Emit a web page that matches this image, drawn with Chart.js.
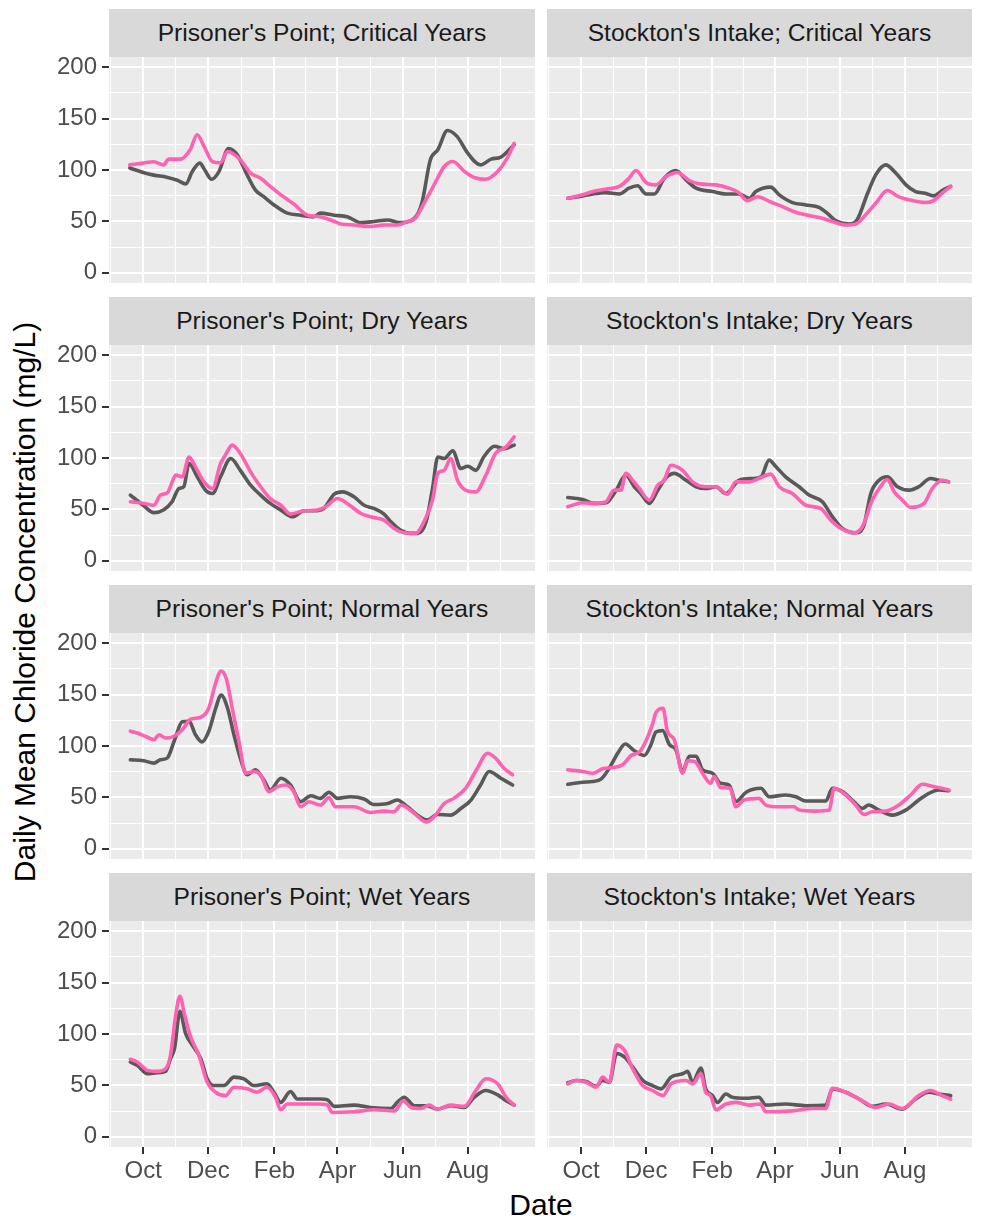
<!DOCTYPE html>
<html><head><meta charset="utf-8">
<script src="https://cdn.jsdelivr.net/npm/chart.js@4"></script>
<style>
html,body{margin:0;padding:0;background:#fff;}
body{width:981px;height:1225px;position:relative;overflow:hidden;font-family:"Liberation Sans",Arial,sans-serif;}
.strip{position:absolute;background:#D9D9D9;color:#1A1A1A;font-size:24.6px;display:flex;align-items:center;justify-content:center;white-space:nowrap;}
canvas{position:absolute;}
.title{position:absolute;color:#000;font-size:30px;white-space:nowrap;line-height:1;}
</style></head><body>
<div class="title" id="ytitle" style="left:25px;top:602px;transform:translate(-50%,-50%) rotate(-90deg);">Daily Mean Chloride Concentration (mg/L)</div>
<div class="title" id="xtitle" style="left:541px;top:1205px;transform:translate(-50%,-50%);">Date</div>
<script>
// ---- axis ticks (x in days since Oct 1) ----
const monthDays   = [0, 61, 123, 182, 243, 304];
const monthLabels = ['Oct', 'Dec', 'Feb', 'Apr', 'Jun', 'Aug'];
const minorDays   = [-30.5, 30.5, 92, 152.5, 212.5, 273.5, 334.5];
const yMajor      = [0, 50, 100, 150, 200];
const yMinor      = [25, 75, 125, 175];

const stations = ["Prisoner's Point", "Stockton's Intake"];
const yearTypes = ['Critical', 'Dry', 'Normal', 'Wet'];

// ---- series: [day, mg/L]; gray and pink lines ----
const ppCriticalGray = [[-12.5,102],[0,97.6],[10,95],[22,93],[32,90],[40,86.5],[46,98.5],[53,106.7],[58,99.5],[64,91],[71,98.5],[80,121],[88,115],[97.5,95],[105,80.7],[113,74],[122.5,66],[135,58],[147.5,56],[160,54.6],[166,58],[178.75,56],[191,54.6],[204,48.8],[216,49.8],[229,51.4],[240,48.8],[254,53],[261,67.6],[269,110],[276,119.7],[285,138.5],[294,132.7],[304,116.4],[316,105],[326,110.6],[335,112.5],[347.5,124.5]];
const ppCriticalPink = [[-12.5,105],[0,106.7],[10,108],[19,105],[24,110.6],[35,110.6],[44,119.7],[50.6,134.3],[57,123],[65,108],[72.5,107],[79,118],[91,110],[100.6,97],[110,92],[119,84],[129,75.8],[141,67],[154,56],[163,55],[175.6,51.4],[185,47.5],[197.5,46.5],[213,45],[225.6,46.5],[238,46.5],[247.5,49.8],[255,53],[263,67.6],[272.5,85.5],[282,103.4],[290,108.3],[301,98.5],[310,92.7],[321,91],[332,98.5],[341,111.5],[347.5,126]];
const siCriticalGray = [[-12.5,72.5],[1.5,74.8],[11,76.7],[23,78],[36,76.7],[45,82.3],[53,84.6],[61,76.7],[69,76.7],[78,92],[89,99.5],[98.5,90.4],[108,82.3],[123.5,79],[136,76.7],[148,76.7],[158,72.5],[164,79],[178,83.3],[186,75.8],[198.5,68.3],[211,66],[223.4,63.7],[231,58],[239,50.7],[251.5,47.5],[259,51.4],[269,77.4],[276.6,95.3],[286,105],[295,97.6],[305,85.5],[314,79],[323,77.4],[331,74.8],[339,80],[347,84]];
const siCriticalPink = [[-12.5,72.5],[1.5,75.8],[11,79],[23,81.3],[36,84],[45,92],[51.5,99.5],[61,87.8],[70,85.5],[80,93.7],[90.6,97.6],[101.5,89.8],[111,86.5],[126.5,85.5],[139,82.3],[148,78],[156,70.2],[166,74],[177,69.3],[189,64.4],[201.5,58.9],[214,55.6],[226.5,53],[236,49.8],[248.4,46.5],[258,47.5],[267,56.3],[276.6,67.6],[287.5,80],[298,74],[311,70.2],[323,68.3],[331,70.2],[339,77.4],[347,84]];
const ppDryGray = [[-12,63.9],[0,54],[10,46.7],[19,49.3],[27,57.4],[33.5,70.3],[38,72],[43,94.6],[50.6,81.7],[58.4,68.7],[65,65.5],[72.5,81.7],[82,99.5],[91,88],[100.6,73.6],[110,63.9],[119,55.8],[129,49.3],[140,42.8],[150.6,48.6],[160,48.6],[169,50.9],[179,64.8],[186.6,67],[197.5,62.2],[207,54],[216,50.9],[225.6,45.4],[232,38],[241,29.8],[250.6,26.6],[257,26.6],[265,38],[271,70.3],[276,101],[282,99.5],[290,107],[297.5,89.8],[304,92],[311.6,88],[319,101],[329,111.5],[338,109],[347.5,112.5]];
const ppDryPink = [[-12,57.4],[0.6,55.8],[10,54],[16.25,63.9],[22.5,66],[31,83.3],[36.6,81.7],[43,101],[49,91.4],[57,76.8],[65,70.3],[72.5,94.6],[77,102.8],[83.4,112.5],[91,104.4],[100.6,86.5],[110,72],[119,60.6],[129,54],[138,45.4],[150.6,48.6],[163,49.3],[171,52.5],[182,60.6],[191,55.8],[204,46],[216,42],[225.6,39.5],[235,31.4],[244.4,27.2],[255,26.6],[263,38],[271,59],[276,85],[282,88],[288,99.5],[294.4,78.4],[302,68.7],[311.6,67],[321,83.3],[330,104.4],[340,110.8],[347.5,120.6]];
const siDryGray = [[-12.5,61.6],[1.5,59.6],[12.5,55.8],[23.4,56.4],[33,68.7],[42,83.3],[50,72],[56,65.5],[64,55.8],[72,68.7],[80,81],[87.5,85],[98.5,78.4],[108,72],[117,70.3],[126.5,72],[136,65.5],[148.4,78.4],[161,80],[169,81.7],[176.5,97.9],[183,91.4],[192,81.7],[204.7,72],[214,63.9],[226.5,57.4],[236,42.8],[245.3,31.4],[258,27.2],[265.6,34.7],[272,65.5],[279.7,78.4],[287.5,81.7],[297,72],[308,68.7],[317,72],[328,80],[336,78.4],[345,76.8]];
const siDryPink = [[-12.5,52.5],[1.5,56.4],[12.5,55.8],[23.4,57.4],[31,68.7],[37.5,68.7],[42,85],[48.4,78.4],[54.7,70.3],[64,59],[72,73.6],[78,78.4],[84.4,93],[95.3,88],[104.7,76.8],[117,72],[126.5,72],[137.5,64.8],[145.3,76.8],[158,76.8],[167,80],[178,84.3],[186,72],[198.4,65.5],[211,54],[225,50.9],[234.4,39.5],[244,31.4],[256,27.2],[264,33],[273.4,59],[281,72],[287.5,79],[294,67],[301.6,59],[309.4,51.9],[322,55.8],[329.7,70.3],[339,78.4],[345,76.8]];
const ppNormalGray = [[-12,86.6],[0.6,85.6],[10,83.3],[16,86.6],[22.5,88.2],[29,104.6],[36.6,123.5],[43,124],[49,111],[55,104],[61.5,114.4],[68,137],[73,149.7],[79,137],[85,111],[91,88.2],[97.5,72],[105,76.8],[113,67],[119,57.2],[129,68.6],[138,62],[147.5,45.8],[157,51.6],[166,49],[174,55],[182,49],[194,50.6],[207,48.4],[216,43],[229,44],[238,47.4],[247.5,40.8],[257,32.7],[266,27.8],[275.6,33.3],[288,32.7],[297.5,39.2],[307,47.4],[316,62],[324,75.2],[335,68.6],[346,62]];
const ppNormalPink = [[-12,114.4],[-5.6,112.7],[2,109.5],[10,106.2],[15,111],[21,107.8],[29,109.5],[38,117.6],[44,125.8],[54,128],[61.5,137],[68,161.8],[73,173],[78,165],[83.4,137],[89.7,104.6],[96,73.5],[103.7,75.2],[110,72],[118,55.6],[126,60.5],[133.8,62],[141,55.6],[147.5,40.8],[155.3,45.8],[166,42.5],[174,49.7],[180,40.8],[197.5,40.8],[213,35.3],[225.6,36.6],[235,36],[241.6,42.5],[254,34.3],[265,26.1],[272.5,31],[282,44],[291,49],[302,58.8],[313,78.4],[322.5,93],[330,88.2],[338,78.4],[346,72]];
const siNormalGray = [[-12.5,62.7],[1.5,64.7],[11,65.4],[19,68],[26.5,78.4],[34.4,93],[41.5,102],[50,95.4],[59.4,90.8],[65.6,101.3],[70.3,113.7],[76.6,115],[83,101.3],[89,96.4],[95.3,75.2],[101.6,90],[108,90],[114,76.8],[123.4,73.5],[131,63.7],[139,62],[145.3,45.8],[155,55],[168.75,58.8],[176.6,50.6],[192,52.3],[201.6,50.6],[211,46.4],[229.7,46.4],[236,58.8],[245.3,55.6],[256,45.8],[264,39.2],[270,42.5],[279.7,37.6],[292,32.7],[304.7,37.6],[317,47.4],[326.5,53.9],[336,57.2],[345.3,56.5]];
const siNormalPink = [[-12.5,76.8],[1.5,75.2],[11,73.5],[20,77.8],[29.7,79],[39,81.7],[47,90.8],[54.7,94.1],[61,105.2],[67,121],[70.3,132.4],[77,136.6],[81,114.4],[87.5,106.2],[95.3,73.5],[100,85.6],[106.6,85],[114,73.5],[121.6,63.7],[125,70.3],[131,59.5],[140,58.8],[145.3,40.8],[153,47.4],[167,49],[173.4,42.5],[186,40.8],[200,40.8],[204.7,37.6],[220,36.6],[233,37.6],[237.5,58.8],[248.4,52.3],[257.8,42.5],[265.6,33.3],[273.4,36],[286,36.6],[298.4,42.5],[309.4,52.3],[320.3,62.7],[331,60.5],[345.3,57.2]];
const ppWetGray = [[-12,72.8],[-5.6,69.5],[4,61.3],[13,62.3],[21,63.6],[25.6,76],[29.4,86],[34.4,122],[39.7,100.7],[46,89.2],[54,76],[60,56.4],[66,49.8],[75.6,49.8],[85,58],[94.4,56.4],[103.7,49.8],[116,51.5],[122.5,43.3],[128.75,33.4],[138,44],[144.4,36.7],[154,36.7],[166,36.7],[172.5,36],[179,29.5],[197.5,30.8],[213,28.5],[232,27.5],[238,33.4],[244.4,38.4],[254,30.2],[266,30.2],[275.6,26.9],[288,30.2],[300.6,28.5],[310,38.4],[321,45],[332,40.7],[340,35],[347.5,30.8]];
const ppWetPink = [[-12,75.4],[-5.6,72.8],[4,64.6],[13,63.6],[21,66.2],[25.6,79.3],[30.3,117],[34.4,136.7],[38.75,118.7],[44.4,97.4],[52.2,79.3],[60,53],[67.8,43.3],[77,40],[85,48.2],[97.5,46.6],[106.6,43.3],[116,48.2],[124,38.4],[128.75,26.2],[135,31.8],[147.5,31.8],[163,31.8],[172.5,30.8],[177,23.6],[197.5,24.3],[216,26.2],[235.6,25.2],[243.4,35],[251,28.5],[260,27.5],[268,30.8],[275.6,26.9],[288,30.8],[300.6,29.5],[311.6,45],[321,56.4],[332,51.5],[340,38.4],[347.5,30.8]];
const siWetGray = [[-12.5,52.5],[-4.7,54.8],[4.7,53.8],[14,49.2],[20.3,54.8],[26.5,53],[33.4,81],[40.6,77.7],[48.4,67.9],[57.8,54.8],[67,49.8],[75,46.6],[84.4,58],[95.3,61.3],[100,63.6],[104.7,53],[112.5,66.9],[117,46.6],[123.4,40],[128,33.4],[136,41.6],[142,38.4],[154.7,37.4],[167,38.4],[173.4,30.8],[192,31.8],[211,30.2],[229.7,30.8],[236,46.6],[248.4,43.3],[261,36.7],[273.4,29.5],[286,31.8],[301.6,26.9],[314,36.7],[326.6,43.3],[336,41.6],[347,40]];
const siWetPink = [[-12.5,51.5],[-4.7,54.8],[4.7,53],[14,48.2],[20.3,58],[26.5,53],[33.4,89.2],[40.6,84.3],[48.4,66.2],[57.8,49.8],[67,45],[77,40],[84.4,51.5],[98.4,54.8],[104.7,51.5],[112.5,61.3],[117,43.3],[121.6,40],[126.5,26.2],[136,31.8],[145.3,33.4],[158,30.8],[168.4,31.8],[173.4,24.3],[198.4,25.2],[217.5,27.5],[229.7,27.5],[236,47.2],[248.4,43.3],[264,35],[276.6,28.5],[289,31.8],[301.6,27.5],[317,40],[328,45],[339,40],[347,36.7]];

const panels = [
  [ppCriticalGray, ppCriticalPink, siCriticalGray, siCriticalPink],
  [ppDryGray, ppDryPink, siDryGray, siDryPink],
  [ppNormalGray, ppNormalPink, siNormalGray, siNormalPink],
  [ppWetGray, ppWetPink, siWetGray, siWetPink]
];

// ---- layout ----
const FONT = '"Liberation Sans", Arial, sans-serif';
Chart.defaults.font.family = FONT;
const ROW_PITCH = 288, PLOT_TOP0 = 57, PLOT_H = 226, STRIP_H = 48;
const PAD_T = 20, PAD_B = 15, XAXIS_H = 45;
const cols = [{left: 0, width: 535, yw: 109, plotLeft: 109}, {left: 547, width: 425, yw: 0, plotLeft: 547}];

const bgPlugin = {
  id: 'panelBg',
  beforeDraw(chart) {
    const {ctx, chartArea: a} = chart;
    ctx.save();
    ctx.fillStyle = '#EBEBEB';
    ctx.fillRect(a.left, a.top, a.right - a.left, a.bottom - a.top);
    ctx.restore();
  }
};

const isMajorY = v => yMajor.includes(v);
const isMajorX = v => monthDays.includes(v);
const toXY = arr => arr.map(p => ({x: p[0], y: p[1]}));

for (let r = 0; r < 4; r++) {
  const plotTop = PLOT_TOP0 + r * ROW_PITCH;
  const bottomRow = r === 3;
  for (let c = 0; c < 2; c++) {
    const col = cols[c];
    const strip = document.createElement('div');
    strip.className = 'strip';
    strip.style.left = col.plotLeft + 'px';
    strip.style.width = (col.left + col.width - col.plotLeft) + 'px';
    strip.style.top = (plotTop - STRIP_H) + 'px';
    strip.style.height = STRIP_H + 'px';
    strip.textContent = stations[c] + '; ' + yearTypes[r] + ' Years';
    document.body.appendChild(strip);

    const cv = document.createElement('canvas');
    const h = PAD_T + PLOT_H + PAD_B + (bottomRow ? XAXIS_H : 0);
    cv.width = col.width; cv.height = h;
    cv.style.left = col.left + 'px';
    cv.style.top = (plotTop - PAD_T) + 'px';
    cv.style.width = col.width + 'px'; cv.style.height = h + 'px';
    document.body.appendChild(cv);

    const gray = panels[r][c * 2], pink = panels[r][c * 2 + 1];
    new Chart(cv, {
      type: 'line',
      data: {
        datasets: [
          {label: 'pink', data: toXY(pink), borderColor: '#FF62B0', borderWidth: 3.6, pointRadius: 0, cubicInterpolationMode: 'monotone', borderJoinStyle: 'round', borderCapStyle: 'round', order: 0},
          {label: 'gray', data: toXY(gray), borderColor: '#595959', borderWidth: 3.6, pointRadius: 0, cubicInterpolationMode: 'monotone', borderJoinStyle: 'round', borderCapStyle: 'round', order: 1}
        ]
      },
      options: {
        responsive: false, animation: false, devicePixelRatio: 1,
        layout: {padding: {top: PAD_T, bottom: PAD_B, left: 0, right: 0}},
        plugins: {legend: {display: false}, tooltip: {enabled: false}},
        events: [],
        scales: {
          x: {
            type: 'linear', min: -32, max: 367,
            afterBuildTicks: s => { s.ticks = monthDays.concat(minorDays).sort((a, b) => a - b).map(v => ({value: v})); },
            afterFit: s => { s.height = bottomRow ? XAXIS_H : 0; s.paddingLeft = 0; s.paddingRight = 0; },
            border: {display: false},
            grid: {
              color: '#FFFFFF',
              lineWidth: ctx => isMajorX(ctx.tick.value) ? 2 : 1,
              drawTicks: bottomRow, tickLength: 7, tickWidth: 2,
              tickColor: ctx => isMajorX(ctx.tick.value) ? '#333333' : 'rgba(0,0,0,0)'
            },
            ticks: {
              display: bottomRow, autoSkip: false, maxRotation: 0, padding: 3,
              color: '#4D4D4D', font: {size: 24, family: FONT},
              callback: v => { const i = monthDays.indexOf(v); return i >= 0 ? monthLabels[i] : ''; }
            }
          },
          y: {
            type: 'linear', min: -10, max: 210,
            afterBuildTicks: s => { s.ticks = yMajor.concat(yMinor).sort((a, b) => a - b).map(v => ({value: v})); },
            afterFit: s => { s.width = col.yw; s.paddingTop = 0; s.paddingBottom = 0; },
            border: {display: false},
            grid: {
              color: '#FFFFFF',
              lineWidth: ctx => isMajorY(ctx.tick.value) ? 2 : 1,
              drawTicks: c === 0, tickLength: 7, tickWidth: 2,
              tickColor: ctx => isMajorY(ctx.tick.value) ? '#333333' : 'rgba(0,0,0,0)'
            },
            ticks: {
              display: c === 0, autoSkip: false, padding: 5,
              color: '#4D4D4D', font: {size: 24, family: FONT},
              callback: v => isMajorY(v) ? String(v) : ''
            }
          }
        }
      },
      plugins: [bgPlugin]
    });
  }
}
</script>
</body></html>
